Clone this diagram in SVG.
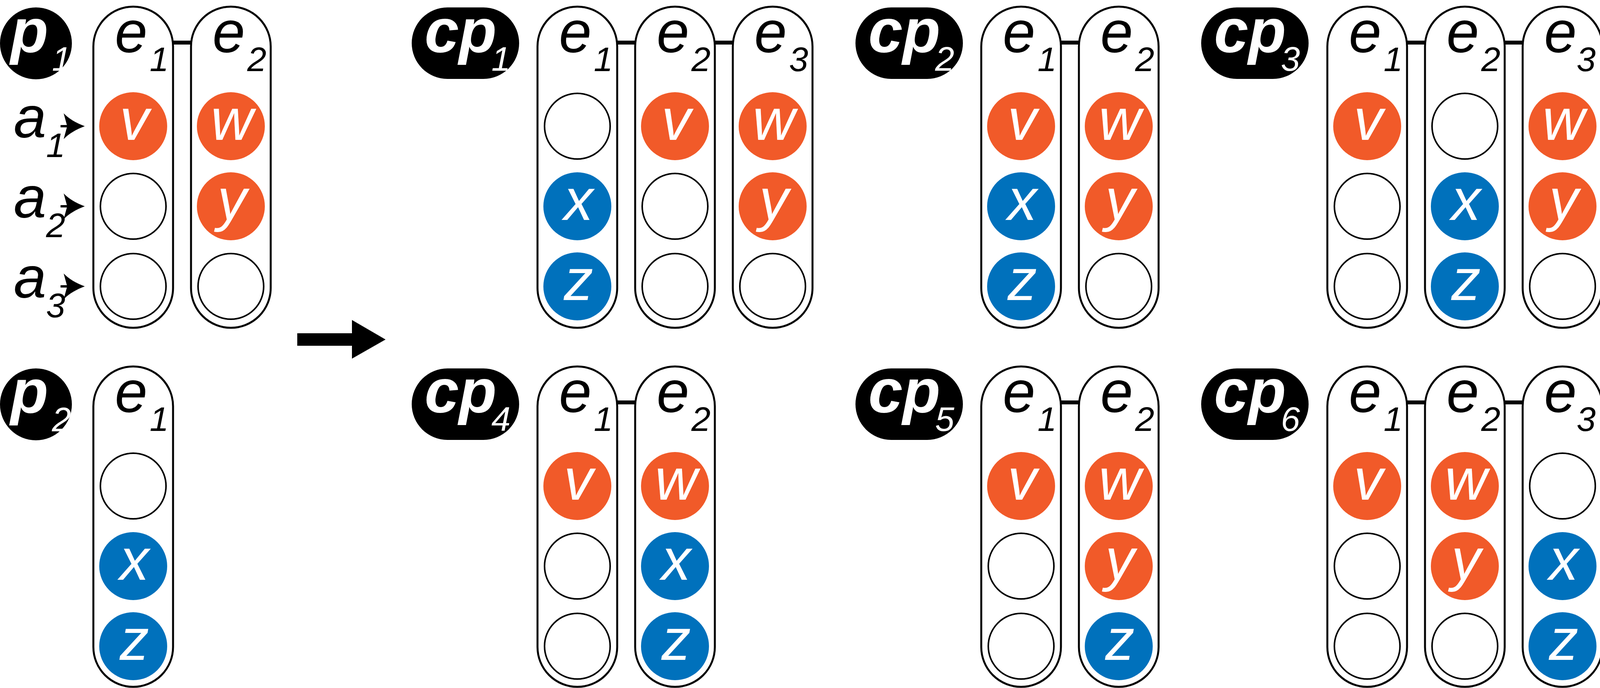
<svg xmlns="http://www.w3.org/2000/svg" width="4104" height="1761" viewBox="0 0 4104 1761">
<style>
text{font-family:"Liberation Sans",Arial,sans-serif;font-style:italic}
.pill{fill:#fff;stroke:#000;stroke-width:5}
.e{font-size:150px;fill:#000}
.s{font-size:88px;fill:#000}
.o{fill:#F15A29}
.b{fill:#0071BC}
.n{fill:#fff;stroke:#000;stroke-width:4}
.l{font-size:150px;fill:#fff;text-anchor:middle}
.bt{font-size:158px;font-weight:bold;fill:#fff}
.bs{font-size:88px;fill:#fff}
.con{stroke:#000;stroke-width:10}
</style>
<defs>
<g id="ah"><path d="M62,0 C40,-8 20,-20 8,-33 L17,0 L8,33 C20,20 40,8 62,0 Z" fill="#000"/><line x1="0" y1="0" x2="25" y2="0" stroke="#000" stroke-width="6"/></g>
</defs>
<g id="connectors">
<line class="con" x1="440" y1="109" x2="494" y2="109"/>
<line class="con" x1="1575" y1="109" x2="1631" y2="109"/>
<line class="con" x1="1825" y1="109" x2="1881" y2="109"/>
<line class="con" x1="2711" y1="109" x2="2767" y2="109"/>
<line class="con" x1="3597" y1="109" x2="3653" y2="109"/>
<line class="con" x1="3847" y1="109" x2="3903" y2="109"/>
<line class="con" x1="1575" y1="1030" x2="1631" y2="1030"/>
<line class="con" x1="2711" y1="1030" x2="2767" y2="1030"/>
<line class="con" x1="3597" y1="1030" x2="3653" y2="1030"/>
<line class="con" x1="3847" y1="1030" x2="3903" y2="1030"/>
<path d="M761,853 H901 V819 L987,869 L901,918 V885 H761 Z" fill="#000"/>
</g>
<g id="p1">
<circle cx="92" cy="111" r="92" fill="#000"/>
<text class="bt" x="27" y="133">p</text><text class="bs" x="133" y="181">1</text>
<text class="e" x="35" y="352">a</text><text class="s" x="118" y="402">1</text>
<text class="e" x="35" y="557">a</text><text class="s" x="118" y="607">2</text>
<text class="e" x="35" y="762">a</text><text class="s" x="118" y="812">3</text>
<use href="#ah" x="155" y="323"/><use href="#ah" x="155" y="528"/><use href="#ah" x="155" y="733"/>
<rect class="pill" x="239" y="17" width="204" height="822" rx="102"/>
<text class="e" x="294" y="134">e</text><text class="s" x="383" y="182">1</text>
<circle class="o" cx="341" cy="323" r="87"/><text class="l" x="344" y="358">v</text>
<circle class="n" cx="341" cy="528" r="84"/>
<circle class="n" cx="341" cy="733" r="84"/>
<rect class="pill" x="489" y="17" width="204" height="822" rx="102"/>
<text class="e" x="544" y="134">e</text><text class="s" x="633" y="182">2</text>
<circle class="o" cx="591" cy="323" r="87"/><text class="l" x="594" y="358">w</text>
<circle class="o" cx="591" cy="528" r="87"/><text class="l" x="594" y="563">y</text>
<circle class="n" cx="591" cy="733" r="84"/>
</g>
<g id="cp1">
<rect x="1054" y="19" width="275" height="183" rx="91.5" fill="#000"/>
<text class="bt" x="1087" y="133">cp</text><text class="bs" x="1258" y="181">1</text>
<rect class="pill" x="1376" y="17" width="204" height="822" rx="102"/>
<text class="e" x="1431" y="134">e</text><text class="s" x="1520" y="182">1</text>
<circle class="n" cx="1478" cy="323" r="84"/>
<circle class="b" cx="1478" cy="528" r="87"/><text class="l" x="1481" y="563">x</text>
<circle class="b" cx="1478" cy="733" r="87"/><text class="l" x="1481" y="768">z</text>
<rect class="pill" x="1626" y="17" width="204" height="822" rx="102"/>
<text class="e" x="1681" y="134">e</text><text class="s" x="1770" y="182">2</text>
<circle class="o" cx="1728" cy="323" r="87"/><text class="l" x="1731" y="358">v</text>
<circle class="n" cx="1728" cy="528" r="84"/>
<circle class="n" cx="1728" cy="733" r="84"/>
<rect class="pill" x="1876" y="17" width="204" height="822" rx="102"/>
<text class="e" x="1931" y="134">e</text><text class="s" x="2020" y="182">3</text>
<circle class="o" cx="1978" cy="323" r="87"/><text class="l" x="1981" y="358">w</text>
<circle class="o" cx="1978" cy="528" r="87"/><text class="l" x="1981" y="563">y</text>
<circle class="n" cx="1978" cy="733" r="84"/>
</g>
<g id="cp2">
<rect x="2190" y="19" width="275" height="183" rx="91.5" fill="#000"/>
<text class="bt" x="2223" y="133">cp</text><text class="bs" x="2394" y="181">2</text>
<rect class="pill" x="2512" y="17" width="204" height="822" rx="102"/>
<text class="e" x="2567" y="134">e</text><text class="s" x="2656" y="182">1</text>
<circle class="o" cx="2614" cy="323" r="87"/><text class="l" x="2617" y="358">v</text>
<circle class="b" cx="2614" cy="528" r="87"/><text class="l" x="2617" y="563">x</text>
<circle class="b" cx="2614" cy="733" r="87"/><text class="l" x="2617" y="768">z</text>
<rect class="pill" x="2762" y="17" width="204" height="822" rx="102"/>
<text class="e" x="2817" y="134">e</text><text class="s" x="2906" y="182">2</text>
<circle class="o" cx="2864" cy="323" r="87"/><text class="l" x="2867" y="358">w</text>
<circle class="o" cx="2864" cy="528" r="87"/><text class="l" x="2867" y="563">y</text>
<circle class="n" cx="2864" cy="733" r="84"/>
</g>
<g id="cp3">
<rect x="3075" y="19" width="275" height="183" rx="91.5" fill="#000"/>
<text class="bt" x="3108" y="133">cp</text><text class="bs" x="3279" y="181">3</text>
<rect class="pill" x="3398" y="17" width="204" height="822" rx="102"/>
<text class="e" x="3453" y="134">e</text><text class="s" x="3542" y="182">1</text>
<circle class="o" cx="3500" cy="323" r="87"/><text class="l" x="3503" y="358">v</text>
<circle class="n" cx="3500" cy="528" r="84"/>
<circle class="n" cx="3500" cy="733" r="84"/>
<rect class="pill" x="3648" y="17" width="204" height="822" rx="102"/>
<text class="e" x="3703" y="134">e</text><text class="s" x="3792" y="182">2</text>
<circle class="n" cx="3750" cy="323" r="84"/>
<circle class="b" cx="3750" cy="528" r="87"/><text class="l" x="3753" y="563">x</text>
<circle class="b" cx="3750" cy="733" r="87"/><text class="l" x="3753" y="768">z</text>
<rect class="pill" x="3898" y="17" width="204" height="822" rx="102"/>
<text class="e" x="3953" y="134">e</text><text class="s" x="4036" y="182">3</text>
<circle class="o" cx="4000" cy="323" r="87"/><text class="l" x="4003" y="358">w</text>
<circle class="o" cx="4000" cy="528" r="87"/><text class="l" x="4003" y="563">y</text>
<circle class="n" cx="4000" cy="733" r="84"/>
</g>
<g id="p2">
<circle cx="92" cy="1035" r="92" fill="#000"/>
<text class="bt" x="27" y="1056">p</text><text class="bs" x="133" y="1104">2</text>
<rect class="pill" x="239" y="938" width="204" height="820" rx="102"/>
<text class="e" x="294" y="1055">e</text><text class="s" x="383" y="1103">1</text>
<circle class="n" cx="341" cy="1244" r="84"/>
<circle class="b" cx="341" cy="1449" r="87"/><text class="l" x="344" y="1484">x</text>
<circle class="b" cx="341" cy="1654" r="87"/><text class="l" x="344" y="1689">z</text>
</g>
<g id="cp4">
<rect x="1054" y="943" width="275" height="183" rx="91.5" fill="#000"/>
<text class="bt" x="1087" y="1055">cp</text><text class="bs" x="1258" y="1103">4</text>
<rect class="pill" x="1376" y="938" width="204" height="820" rx="102"/>
<text class="e" x="1431" y="1055">e</text><text class="s" x="1520" y="1103">1</text>
<circle class="o" cx="1478" cy="1244" r="87"/><text class="l" x="1481" y="1279">v</text>
<circle class="n" cx="1478" cy="1449" r="84"/>
<circle class="n" cx="1478" cy="1654" r="84"/>
<rect class="pill" x="1626" y="938" width="204" height="820" rx="102"/>
<text class="e" x="1681" y="1055">e</text><text class="s" x="1770" y="1103">2</text>
<circle class="o" cx="1728" cy="1244" r="87"/><text class="l" x="1731" y="1279">w</text>
<circle class="b" cx="1728" cy="1449" r="87"/><text class="l" x="1731" y="1484">x</text>
<circle class="b" cx="1728" cy="1654" r="87"/><text class="l" x="1731" y="1689">z</text>
</g>
<g id="cp5">
<rect x="2190" y="943" width="275" height="183" rx="91.5" fill="#000"/>
<text class="bt" x="2223" y="1055">cp</text><text class="bs" x="2394" y="1103">5</text>
<rect class="pill" x="2512" y="938" width="204" height="820" rx="102"/>
<text class="e" x="2567" y="1055">e</text><text class="s" x="2656" y="1103">1</text>
<circle class="o" cx="2614" cy="1244" r="87"/><text class="l" x="2617" y="1279">v</text>
<circle class="n" cx="2614" cy="1449" r="84"/>
<circle class="n" cx="2614" cy="1654" r="84"/>
<rect class="pill" x="2762" y="938" width="204" height="820" rx="102"/>
<text class="e" x="2817" y="1055">e</text><text class="s" x="2906" y="1103">2</text>
<circle class="o" cx="2864" cy="1244" r="87"/><text class="l" x="2867" y="1279">w</text>
<circle class="o" cx="2864" cy="1449" r="87"/><text class="l" x="2867" y="1484">y</text>
<circle class="b" cx="2864" cy="1654" r="87"/><text class="l" x="2867" y="1689">z</text>
</g>
<g id="cp6">
<rect x="3075" y="943" width="275" height="183" rx="91.5" fill="#000"/>
<text class="bt" x="3108" y="1055">cp</text><text class="bs" x="3279" y="1103">6</text>
<rect class="pill" x="3398" y="938" width="204" height="820" rx="102"/>
<text class="e" x="3453" y="1055">e</text><text class="s" x="3542" y="1103">1</text>
<circle class="o" cx="3500" cy="1244" r="87"/><text class="l" x="3503" y="1279">v</text>
<circle class="n" cx="3500" cy="1449" r="84"/>
<circle class="n" cx="3500" cy="1654" r="84"/>
<rect class="pill" x="3648" y="938" width="204" height="820" rx="102"/>
<text class="e" x="3703" y="1055">e</text><text class="s" x="3792" y="1103">2</text>
<circle class="o" cx="3750" cy="1244" r="87"/><text class="l" x="3753" y="1279">w</text>
<circle class="o" cx="3750" cy="1449" r="87"/><text class="l" x="3753" y="1484">y</text>
<circle class="n" cx="3750" cy="1654" r="84"/>
<rect class="pill" x="3898" y="938" width="204" height="820" rx="102"/>
<text class="e" x="3953" y="1055">e</text><text class="s" x="4036" y="1103">3</text>
<circle class="n" cx="4000" cy="1244" r="84"/>
<circle class="b" cx="4000" cy="1449" r="87"/><text class="l" x="4003" y="1484">x</text>
<circle class="b" cx="4000" cy="1654" r="87"/><text class="l" x="4003" y="1689">z</text>
</g>
</svg>
